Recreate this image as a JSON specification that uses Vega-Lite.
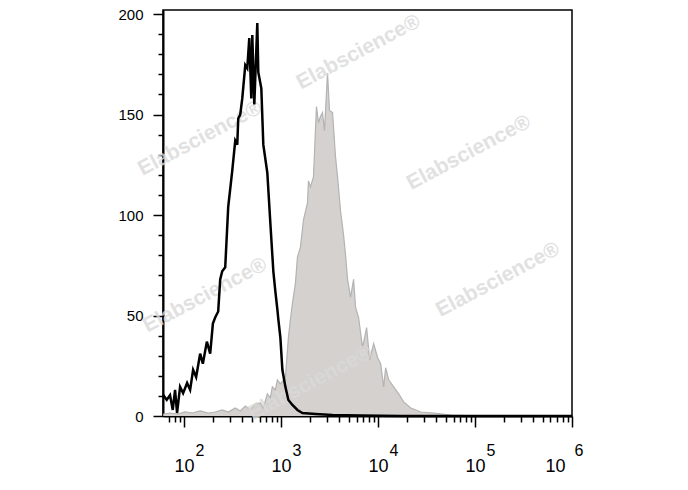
{
  "$schema": "https://vega.github.io/schema/vega-lite/v6.json",
  "width": 409,
  "height": 406,
  "autosize": {"type": "none"},
  "padding": {"left": 163, "top": 10, "right": 116, "bottom": 74},
  "background": "white",
  "config": {"view": {"stroke": "#000", "strokeWidth": 1.5}},
  "datasets": {
    "black": [
      {"x": 61, "y": 10.4}, {"x": 66.2, "y": 8}, {"x": 71.6, "y": 10.4}, {"x": 76.4, "y": 3},
      {"x": 80.7, "y": 13}, {"x": 84.6, "y": 1.5}, {"x": 90.9, "y": 14.5}, {"x": 97.7, "y": 11.4},
      {"x": 107.4, "y": 16.4}, {"x": 115.4, "y": 13}, {"x": 123.9, "y": 23}, {"x": 133.1, "y": 19.4},
      {"x": 146.4, "y": 31}, {"x": 156.1, "y": 26}, {"x": 171.7, "y": 37}, {"x": 185.8, "y": 31},
      {"x": 198.1, "y": 46}, {"x": 209.2, "y": 49}, {"x": 224.7, "y": 52}, {"x": 235.7, "y": 68},
      {"x": 247.2, "y": 72}, {"x": 265.5, "y": 74}, {"x": 285.1, "y": 104}, {"x": 313.6, "y": 122},
      {"x": 336.9, "y": 137}, {"x": 353.3, "y": 135}, {"x": 361.8, "y": 148}, {"x": 379.5, "y": 150},
      {"x": 398, "y": 158}, {"x": 427.5, "y": 174.6}, {"x": 448.2, "y": 173}, {"x": 470, "y": 188},
      {"x": 493.2, "y": 158}, {"x": 505, "y": 189.6}, {"x": 529.6, "y": 155}, {"x": 568.7, "y": 195.5},
      {"x": 582.4, "y": 171}, {"x": 625.7, "y": 163}, {"x": 656, "y": 135}, {"x": 721.6, "y": 121},
      {"x": 775.1, "y": 96}, {"x": 832.4, "y": 72}, {"x": 873, "y": 62}, {"x": 915.7, "y": 53},
      {"x": 937.8, "y": 48}, {"x": 983.5, "y": 39}, {"x": 1031.3, "y": 23}, {"x": 1107.9, "y": 14.5},
      {"x": 1190, "y": 8}, {"x": 1309, "y": 5.5}, {"x": 1474.6, "y": 3}, {"x": 1661, "y": 1.5},
      {"x": 2263, "y": 1}, {"x": 3393, "y": 0.5}, {"x": 6610, "y": 0.3}, {"x": 17130, "y": 0},
      {"x": 1000000, "y": 0}
    ],
    "gray": [
      {"x": 61, "y": 1}, {"x": 71.6, "y": 1.5}, {"x": 86.7, "y": 1}, {"x": 102.4, "y": 2},
      {"x": 121, "y": 1.5}, {"x": 146.4, "y": 2.5}, {"x": 177.1, "y": 1.5}, {"x": 209.2, "y": 2},
      {"x": 247.2, "y": 3}, {"x": 285.1, "y": 2}, {"x": 336.9, "y": 4}, {"x": 379.5, "y": 2.5},
      {"x": 427.5, "y": 5}, {"x": 481.5, "y": 3}, {"x": 542.3, "y": 6}, {"x": 610.9, "y": 6.5},
      {"x": 656, "y": 4}, {"x": 721.6, "y": 11}, {"x": 775.1, "y": 9}, {"x": 812.8, "y": 14.5},
      {"x": 873.1, "y": 13}, {"x": 915.7, "y": 18}, {"x": 983.5, "y": 16}, {"x": 1107.9, "y": 19},
      {"x": 1190, "y": 39}, {"x": 1248, "y": 48}, {"x": 1309, "y": 56}, {"x": 1406, "y": 66},
      {"x": 1474.6, "y": 79}, {"x": 1584, "y": 84}, {"x": 1701, "y": 97.5}, {"x": 1871, "y": 106},
      {"x": 1916, "y": 117}, {"x": 2009, "y": 114}, {"x": 2158, "y": 119}, {"x": 2317, "y": 154},
      {"x": 2431, "y": 146}, {"x": 2550, "y": 149}, {"x": 2673, "y": 151}, {"x": 2804, "y": 142},
      {"x": 3012, "y": 170.6}, {"x": 3159, "y": 152}, {"x": 3393, "y": 151}, {"x": 3644, "y": 129},
      {"x": 3821, "y": 119}, {"x": 4105, "y": 102}, {"x": 4410, "y": 90}, {"x": 4624, "y": 80},
      {"x": 4850, "y": 68}, {"x": 5209, "y": 59}, {"x": 5594, "y": 68}, {"x": 5867, "y": 54},
      {"x": 6301, "y": 49}, {"x": 6929, "y": 34}, {"x": 7623, "y": 44}, {"x": 8187, "y": 28},
      {"x": 9006, "y": 36}, {"x": 9906, "y": 29}, {"x": 10639, "y": 26}, {"x": 11426, "y": 14.5},
      {"x": 11983, "y": 24}, {"x": 12870, "y": 18}, {"x": 14496, "y": 14.5}, {"x": 16330, "y": 11},
      {"x": 18395, "y": 7}, {"x": 21737, "y": 4}, {"x": 27583, "y": 2}, {"x": 37580, "y": 1.5},
      {"x": 56352, "y": 0.5}, {"x": 115100, "y": 0}, {"x": 1000000, "y": 0}
    ],
    "wm": [
      {"x": 6301, "y": 181, "t": "Elabscience®"},
      {"x": 146.4, "y": 138, "t": "Elabscience®"},
      {"x": 86500, "y": 131, "t": "Elabscience®"},
      {"x": 172500, "y": 67.7, "t": "Elabscience®"},
      {"x": 164.9, "y": 60, "t": "Elabscience®"},
      {"x": 2009, "y": 16.4, "t": "Elabscience®"}
    ]
  },
  "encoding": {
    "y": {
      "field": "y", "type": "quantitative",
      "scale": {"domain": [0, 202], "nice": false, "zero": false},
      "axis": {
        "title": null, "grid": false,
        "values": [0, 10, 20, 30, 40, 50, 60, 70, 80, 90, 100, 110, 120, 130, 140, 150, 160, 170, 180, 190, 200],
        "labelExpr": "datum.value % 50 === 0 ? datum.label : ''",
        "tickSize": {"condition": {"test": "datum.value % 50 === 0", "value": 10}, "value": 5},
        "tickColor": "#000", "tickWidth": 1.5,
        "domainColor": "#000", "domainWidth": 2,
        "labelFont": "Liberation Sans", "labelFontSize": 15, "labelColor": "#000",
        "labelPadding": 10
      }
    }
  },
  "layer": [
    {
      "data": {"name": "gray"},
      "mark": {"type": "area", "color": "#d4d1cf", "fillOpacity": 1, "line": {"stroke": "#b3b3b3", "strokeWidth": 1.2}},
      "encoding": {
        "x": {
          "field": "x", "type": "quantitative",
          "scale": {"type": "log", "domain": [60.6, 1000000], "nice": false},
          "axis": {
            "orient": "bottom", "title": null, "grid": false, "ticks": false, "domain": false,
            "values": [100, 1000, 10000, 100000, 1000000],
            "labelExpr": "'' + round(log(datum.value) / LN10)",
            "labelFont": "Liberation Sans", "labelFontSize": 16, "labelColor": "#000",
            "labelAlign": "left",
            "labelOffset": {"condition": {"test": "datum.value > 500000", "value": 2}, "value": 11},
            "labelPadding": 26, "labelBound": false
          }
        }
      }
    },
    {
      "data": {"name": "wm"},
      "mark": {"type": "text", "angle": -28, "font": "Liberation Sans", "fontWeight": "bold", "fontSize": 21, "color": "#dadada", "opacity": 0.8, "align": "center", "baseline": "middle"},
      "encoding": {
        "x": {"field": "x", "type": "quantitative", "axis": null},
        "text": {"field": "t"}
      }
    },
    {
      "data": {"name": "black"},
      "mark": {"type": "line", "color": "#000", "strokeWidth": 2.5, "interpolate": "linear"},
      "encoding": {
        "x": {
          "field": "x", "type": "quantitative",
          "axis": {
            "orient": "bottom", "title": null, "grid": false,
            "values": [70, 80, 90, 100, 200, 300, 400, 500, 600, 700, 800, 900, 1000, 2000, 3000, 4000, 5000, 6000, 7000, 8000, 9000, 10000, 20000, 30000, 40000, 50000, 60000, 70000, 80000, 90000, 100000, 200000, 300000, 400000, 500000, 600000, 700000, 800000, 900000, 1000000],
            "labelExpr": "abs(log(datum.value) / LN10 - round(log(datum.value) / LN10)) < 0.001 ? '10' : ''",
            "tickSize": {"condition": {"test": "abs(log(datum.value) / LN10 - round(log(datum.value) / LN10)) < 0.001", "value": 11}, "value": 6},
            "tickColor": "#000", "tickWidth": 1.5,
            "domainColor": "#000", "domainWidth": 2,
            "labelFont": "Liberation Sans", "labelFontSize": 18, "labelColor": "#000",
            "labelOffset": {"condition": {"test": "datum.value > 500000", "value": -7}, "value": 0},
            "labelPadding": 30, "labelOverlap": false, "labelBound": false
          }
        }
      }
    }
  ],
  "resolve": {"axis": {"x": "independent"}}
}
